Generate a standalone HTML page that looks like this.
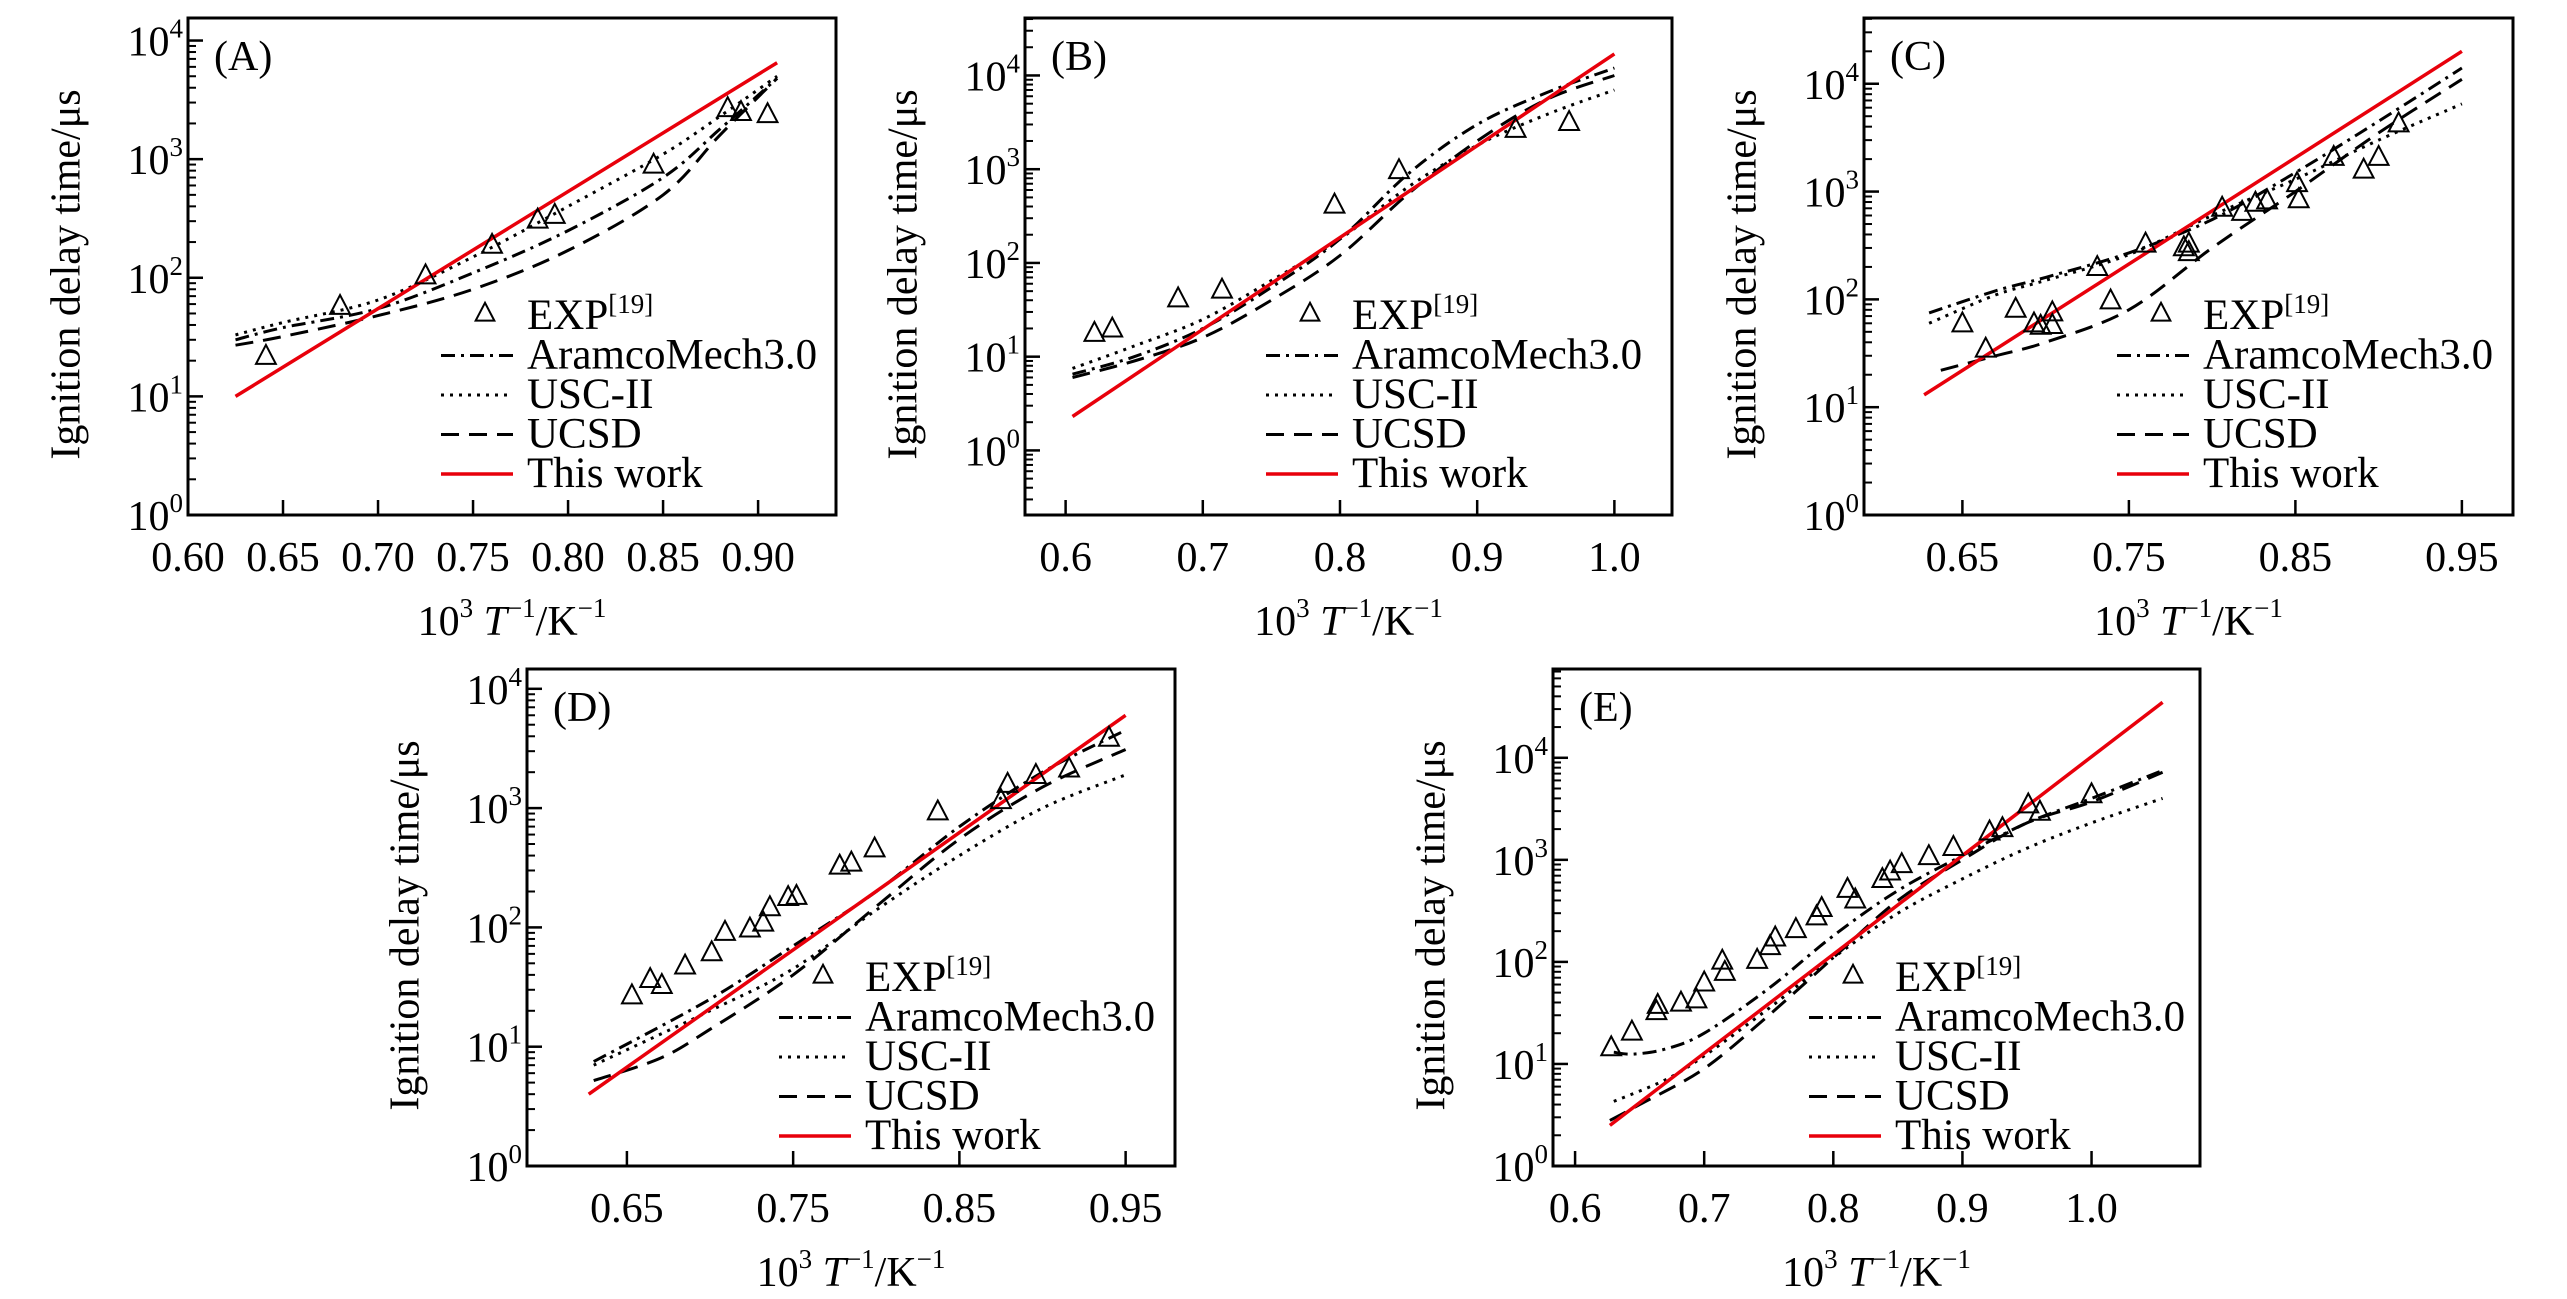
<!DOCTYPE html>
<html><head><meta charset="utf-8">
<style>
html,body{margin:0;padding:0;background:#fff;}
svg{display:block;font-family:"Liberation Serif","DejaVu Serif",serif;}
</style></head>
<body>
<svg id="fig" width="2567" height="1299" viewBox="0 0 2567 1299" xmlns="http://www.w3.org/2000/svg"></svg>
<script>
// ---------- Panel A data ----------
const aWorkX=[0.625,0.91], aWorkY=[10,6500];
const aAramX=[0.625,0.65,0.70,0.75,0.80,0.85,0.88,0.91], aAramY=[30,38,55,110,250,700,1800,4800];
const aUscX=[0.625,0.65,0.70,0.75,0.80,0.85,0.88,0.91], aUscY=[33,42,65,150,400,1100,2300,5000];
const aUcsdX=[0.625,0.65,0.70,0.75,0.80,0.85,0.88,0.91], aUcsdY=[27,32,48,80,170,500,1600,4800];
const aExpX=[0.641,0.68,0.725,0.76,0.784,0.793,0.845,0.884,0.891,0.905];
const aExpY=[22,58,105,190,310,340,900,2700,2500,2400];
const aTicks=[0.60,0.65,0.70,0.75,0.80,0.85,0.90];
const aTickLabels=["0.60","0.65","0.70","0.75","0.80","0.85","0.90"];
// ---------- Panel B data ----------
const bWorkX=[0.605,1.0], bWorkY=[2.3,17000];
const bAramX=[0.605,0.65,0.70,0.75,0.80,0.85,0.90,0.95,1.0], bAramY=[6.5,10,20,55,180,900,3000,6500,12000];
const bUscX=[0.605,0.65,0.70,0.75,0.80,0.85,0.90,0.95,1.0], bUscY=[7.5,13,25,65,180,650,1800,3800,7000];
const bUcsdX=[0.605,0.65,0.70,0.75,0.80,0.85,0.90,0.95,1.0], bUcsdY=[6,9,16,40,120,550,2000,5500,10000];
const bExpX=[0.621,0.634,0.682,0.714,0.796,0.843,0.928,0.967];
const bExpY=[18,20,42,52,420,980,2700,3200];
const bTicks=[0.6,0.7,0.8,0.9,1.0];
const bTickLabels=["0.6","0.7","0.8","0.9","1.0"];
// ---------- Panel C data ----------
const cWorkX=[0.627,0.95], cWorkY=[13,20000];
const cAramX=[0.63,0.67,0.70,0.75,0.80,0.85,0.90,0.95], cAramY=[75,120,160,270,550,1500,4500,14000];
const cUscX=[0.63,0.67,0.70,0.75,0.80,0.85,0.90,0.95], cUscY=[60,110,150,260,600,1300,3000,6500];
const cUcsdX=[0.637,0.67,0.70,0.75,0.80,0.85,0.90,0.95], cUcsdY=[22,30,40,80,300,1000,3500,11000];
const cExpX=[0.65,0.664,0.682,0.693,0.697,0.704,0.704,0.731,0.739,0.76,0.783,0.786,0.786,0.806,0.818,0.826,0.833,0.851,0.852,0.873,0.891,0.90,0.912];
const cExpY=[60,35,82,60,57,76,58,200,98,330,305,330,275,710,650,790,830,1200,850,2100,1600,2100,4300];
const cTicks=[0.65,0.75,0.85,0.95];
const cTickLabels=["0.65","0.75","0.85","0.95"];
// ---------- Panel D data ----------
const dWorkX=[0.627,0.95], dWorkY=[4,6000];
const dAramX=[0.63,0.70,0.75,0.80,0.85,0.90,0.95], dAramY=[7.5,25,70,200,700,2000,4500];
const dUscX=[0.63,0.70,0.75,0.80,0.85,0.90,0.95], dUscY=[7,20,45,140,400,1000,1900];
const dUcsdX=[0.63,0.67,0.70,0.75,0.80,0.85,0.90,0.95], dUcsdY=[5.2,8,14,40,150,550,1500,3100];
const dExpX=[0.653,0.664,0.671,0.685,0.701,0.709,0.724,0.732,0.736,0.747,0.752,0.778,0.785,0.799,0.837,0.875,0.879,0.896,0.916,0.940];
const dExpY=[27,37,33,48,62,92,98,110,148,180,184,330,350,460,940,1170,1600,1900,2150,3900];
const dTicks=[0.65,0.75,0.85,0.95];
const dTickLabels=["0.65","0.75","0.85","0.95"];
// ---------- Panel E data ----------
const eWorkX=[0.627,1.055], eWorkY=[2.5,35000];
const eAramX=[0.63,0.645,0.67,0.70,0.75,0.80,0.85,0.90,0.95,1.0,1.055], eAramY=[13,12.5,14,20,55,180,500,1100,2300,4000,7500];
const eUscX=[0.63,0.67,0.70,0.75,0.80,0.85,0.90,0.95,1.0,1.055], eUscY=[4.3,7,12,35,110,300,650,1300,2300,4000];
const eUcsdX=[0.627,0.65,0.70,0.75,0.80,0.85,0.90,0.95,1.0,1.055], eUcsdY=[2.8,4,9,30,110,400,1000,2300,3700,7200];
const eExpX=[0.628,0.644,0.663,0.664,0.682,0.694,0.700,0.714,0.716,0.741,0.751,0.755,0.771,0.787,0.791,0.811,0.817,0.838,0.844,0.853,0.874,0.893,0.921,0.931,0.951,0.960,1.0];
const eExpY=[14.6,20.8,33,38,40,43,63,103,80,105,143,174,210,280,338,520,410,650,770,910,1090,1340,1900,2050,3500,2970,4400];
const eTicks=[0.6,0.7,0.8,0.9,1.0];
const eTickLabels=["0.6","0.7","0.8","0.9","1.0"];

const NS="http://www.w3.org/2000/svg";
const svg=document.getElementById("fig");
function mk(tag,parent){const e=document.createElementNS(NS,tag);parent.appendChild(e);return e;}

const panels=[
 {id:"a",label:"(A)",l:188,t:18,r:836,b:515,xmin:0.60,xmax:0.941,ymin:0,ymax:4.19,
  ticks:aTicks,tl:aTickLabels,work:[aWorkX,aWorkY],aram:[aAramX,aAramY],usc:[aUscX,aUscY],ucsd:[aUcsdX,aUcsdY],exp:[aExpX,aExpY],legY:311,legX:339},
 {id:"b",label:"(B)",l:1025,t:18,r:1672,b:515,xmin:0.5704,xmax:1.042,ymin:-0.689,ymax:4.613,
  ticks:bTicks,tl:bTickLabels,work:[bWorkX,bWorkY],aram:[bAramX,bAramY],usc:[bUscX,bUscY],ucsd:[bUcsdX,bUcsdY],exp:[bExpX,bExpY],legY:311,legX:327},
 {id:"c",label:"(C)",l:1864,t:18,r:2513,b:515,xmin:0.5909,xmax:0.9807,ymin:0,ymax:4.61,
  ticks:cTicks,tl:cTickLabels,work:[cWorkX,cWorkY],aram:[cAramX,cAramY],usc:[cUscX,cUscY],ucsd:[cUcsdX,cUcsdY],exp:[cExpX,cExpY],legY:311,legX:339},
 {id:"d",label:"(D)",l:527,t:669,r:1175,b:1166,xmin:0.5899,xmax:0.9797,ymin:0,ymax:4.166,
  ticks:dTicks,tl:dTickLabels,work:[dWorkX,dWorkY],aram:[dAramX,dAramY],usc:[dUscX,dUscY],ucsd:[dUcsdX,dUcsdY],exp:[dExpX,dExpY],legY:322,legX:338},
 {id:"e",label:"(E)",l:1553,t:669,r:2200,b:1166,xmin:0.5829,xmax:1.084,ymin:0,ymax:4.87,
  ticks:eTicks,tl:eTickLabels,work:[eWorkX,eWorkY],aram:[eAramX,eAramY],usc:[eUscX,eUscY],ucsd:[eUcsdX,eUcsdY],exp:[eExpX,eExpY],legY:322,legX:342}
];

const styles={
 aram:{stroke:"#000",dash:"14,6,3,6",w:3},
 usc:{stroke:"#000",dash:"3,6",w:3},
 ucsd:{stroke:"#000",dash:"18,10",w:3},
 work:{stroke:"#e8000b",dash:"",w:3.5}
};

function tri(g,cx,cy,s){
  const p=mk("polygon",g);
  p.setAttribute("points",(cx)+","+(cy-s*0.6)+" "+(cx-s*0.55)+","+(cy+s*0.45)+" "+(cx+s*0.55)+","+(cy+s*0.45));
  p.setAttribute("fill","none");p.setAttribute("stroke","#000");p.setAttribute("stroke-width","2");
  return p;
}
function smoothPath(pts){
  if(pts.length<3) return "M"+pts.map(p=>p[0].toFixed(1)+","+p[1].toFixed(1)).join(" L");
  let d="M"+pts[0][0].toFixed(1)+","+pts[0][1].toFixed(1);
  for(let i=0;i<pts.length-1;i++){
    const p0=pts[Math.max(0,i-1)],p1=pts[i],p2=pts[i+1],p3=pts[Math.min(pts.length-1,i+2)];
    const c1=[p1[0]+(p2[0]-p0[0])/6,p1[1]+(p2[1]-p0[1])/6];
    const c2=[p2[0]-(p3[0]-p1[0])/6,p2[1]-(p3[1]-p1[1])/6];
    d+=" C"+c1[0].toFixed(1)+","+c1[1].toFixed(1)+" "+c2[0].toFixed(1)+","+c2[1].toFixed(1)+" "+p2[0].toFixed(1)+","+p2[1].toFixed(1);
  }
  return d;
}

panels.forEach(P=>{
  const g=mk("g",svg);
  
  
  const X=v=>P.l+(v-P.xmin)/(P.xmax-P.xmin)*(P.r-P.l);
  const Y=v=>P.b-(Math.log10(v)-P.ymin)/(P.ymax-P.ymin)*(P.b-P.t);
  const YL=lg=>P.b-(lg-P.ymin)/(P.ymax-P.ymin)*(P.b-P.t);

  const fr=mk("rect",g);
  
  
  fr.setAttribute("x",P.l);fr.setAttribute("y",P.t);fr.setAttribute("width",P.r-P.l);fr.setAttribute("height",P.b-P.t);
  fr.setAttribute("fill","none");fr.setAttribute("stroke","#000");fr.setAttribute("stroke-width","3");

  const yt=mk("g",g);
  
  
  for(let d=Math.floor(P.ymin)-1; d<=Math.ceil(P.ymax); d++){
    for(let m=1;m<=9;m++){
      const lg=d+Math.log10(m);
      if(lg<P.ymin-1e-6||lg>P.ymax+1e-6) continue;
      const y=YL(lg);
      const ln=mk("line",yt);
      ln.setAttribute("x1",P.l);ln.setAttribute("x2",P.l+(m===1?15:8));
      ln.setAttribute("y1",y);ln.setAttribute("y2",y);
      ln.setAttribute("stroke","#000");ln.setAttribute("stroke-width",m===1?"2.5":"2");
      if(m===1&&d>=0&&d<=4){
        const tx=mk("text",yt);
        
        
        tx.setAttribute("x",P.l-5);tx.setAttribute("y",y+15);
        tx.setAttribute("text-anchor","end");tx.setAttribute("font-size","42");
        const t1=mk("tspan",tx);t1.textContent="10";
        const t2=mk("tspan",tx);t2.textContent=String(d);t2.setAttribute("font-size","27");t2.setAttribute("dy","-18");
      }
    }
  }
  const xt=mk("g",g);
  
  
  P.ticks.forEach((v,i)=>{
    const x=X(v);
    const ln=mk("line",xt);
    ln.setAttribute("x1",x);ln.setAttribute("x2",x);ln.setAttribute("y1",P.b);ln.setAttribute("y2",P.b-15);
    ln.setAttribute("stroke","#000");ln.setAttribute("stroke-width","2.5");
    const tx=mk("text",xt);
    
    
    tx.setAttribute("x",x);tx.setAttribute("y",P.b+56);tx.setAttribute("text-anchor","middle");tx.setAttribute("font-size","42");
    tx.textContent=P.tl[i];
  });
  const ylab=mk("text",g);
  
  
  const ycx=P.l-118, ycy=(P.t+P.b)/2+8;
  ylab.setAttribute("x",ycx);ylab.setAttribute("y",ycy);
  ylab.setAttribute("transform","rotate(-90 "+ycx+" "+ycy+")");
  ylab.setAttribute("text-anchor","middle");ylab.setAttribute("font-size","42");
  ylab.setAttribute("dominant-baseline","middle");
  ylab.textContent="Ignition delay time/\u03bcs";

  const xlab=mk("text",g);
  
  
  xlab.setAttribute("x",(P.l+P.r)/2);xlab.setAttribute("y",P.b+120);
  xlab.setAttribute("text-anchor","middle");xlab.setAttribute("font-size","42");
  const s1=mk("tspan",xlab);s1.textContent="10";
  const s2=mk("tspan",xlab);s2.textContent="3";s2.setAttribute("font-size","27");s2.setAttribute("dy","-18");
  const s3=mk("tspan",xlab);s3.textContent=" T";s3.setAttribute("font-style","italic");s3.setAttribute("dy","18");
  const s4=mk("tspan",xlab);s4.textContent="\u22121";s4.setAttribute("font-size","27");s4.setAttribute("dy","-18");
  const s5=mk("tspan",xlab);s5.textContent="/K";s5.setAttribute("dy","18");
  const s6=mk("tspan",xlab);s6.textContent="\u22121";s6.setAttribute("font-size","27");s6.setAttribute("dy","-18");

  const pl=mk("text",g);
  
  
  pl.setAttribute("x",P.l+26);pl.setAttribute("y",P.t+52);pl.setAttribute("font-size","42");
  pl.textContent=P.label;

  ["aram","usc","ucsd","work"].forEach(k=>{
    const [xs,ys]=P[k];
    const pts=xs.map((x,i)=>[X(x),Y(ys[i])]);
    const pth=mk("path",g);
    
    
    pth.setAttribute("d",smoothPath(pts));pth.setAttribute("fill","none");
    pth.setAttribute("stroke",styles[k].stroke);pth.setAttribute("stroke-width",styles[k].w);
    if(styles[k].dash) pth.setAttribute("stroke-dasharray",styles[k].dash);
  });
  const eg=mk("g",g);
  
  
  P.exp[0].forEach((x,i)=>{
    const t=tri(eg,X(x),Y(P.exp[1][i]),18);
    
    
  });

  const lg=mk("g",g);
  
  
  const names=["EXP","AramcoMech3.0","USC-II","UCSD","This work"];
  const keys=[null,"aram","usc","ucsd","work"];
  names.forEach((n,i)=>{
    const by=P.t+P.legY+i*39.5;
    const tx=mk("text",lg);
    
    
    tx.setAttribute("x",P.l+P.legX);tx.setAttribute("y",by);tx.setAttribute("font-size","43");
    if(i===0){
      tx.textContent="EXP";
      const sp=mk("tspan",tx);sp.textContent="[19]";sp.setAttribute("font-size","27");sp.setAttribute("dy","-16");
      const tr=tri(lg,P.l+P.legX-42,by-16,17);
      
      
    }else{
      tx.textContent=n;
      const k=keys[i];
      const ln=mk("line",lg);
      ln.setAttribute("x1",P.l+P.legX-86);ln.setAttribute("x2",P.l+P.legX-14);
      ln.setAttribute("y1",by-13);ln.setAttribute("y2",by-13);
      ln.setAttribute("stroke",styles[k].stroke);ln.setAttribute("stroke-width",styles[k].w);
      if(styles[k].dash) ln.setAttribute("stroke-dasharray",styles[k].dash);
    }
  });
});
</script>
</body></html>
